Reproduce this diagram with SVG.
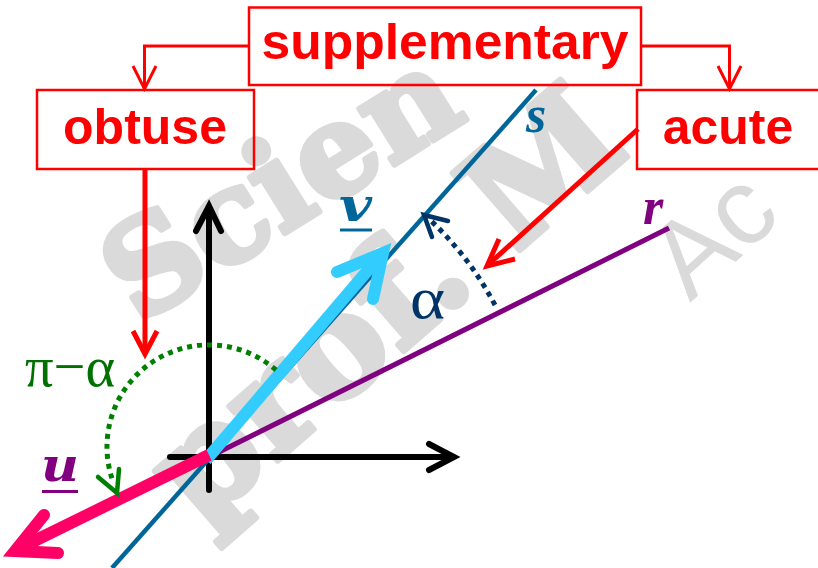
<svg xmlns="http://www.w3.org/2000/svg" width="818" height="568" viewBox="0 0 818 568">
<style>
.wm{fill:#DADADA;stroke:#DADADA;stroke-width:6;stroke-linejoin:round;font-family:"DejaVu Serif",serif;font-weight:bold}
.wm2{fill:#DADADA;font-family:"Liberation Sans",sans-serif}
.box{fill:none;stroke:#FF0000;stroke-width:2.5}
.btxt{fill:#FF0000;font-family:"Liberation Sans",Arial,sans-serif;font-weight:bold;font-size:50px;text-anchor:middle}
.con{fill:none;stroke:#FF0000;stroke-width:3}
.con2{fill:none;stroke:#FF0000;stroke-width:5}
.axis{fill:none;stroke:#000;stroke-width:6;stroke-linecap:round}
.vec{fill:none;stroke-width:12;stroke-linecap:round;stroke-linejoin:miter}
.dot{fill:none;stroke-width:5;stroke-dasharray:5 5}
.lbl{font-family:"Liberation Serif",serif;font-weight:bold;font-style:italic;font-size:52px}
.lbl2{font-family:"DejaVu Serif",serif;font-weight:bold;font-style:italic;font-size:46px}
.greek{font-family:"Liberation Serif",serif}
</style>
<rect width="818" height="568" fill="#FFFFFF"/>
<g id="watermark">
<text class="wm" font-size="127" transform="translate(138,325) rotate(-32)">Scien</text>
<text class="wm" font-size="140" transform="translate(200,528) rotate(-41)">prof. M</text>
<text class="wm2" font-size="108" transform="translate(690,303) rotate(-42)">Ac</text>
</g>
<g id="figure">
<path class="axis" d="M209 490 V208"/>
<polyline class="axis" points="196,231 209,206 221,231"/>
<path class="axis" d="M170 457 H452"/>
<polyline class="axis" points="429,444 454,457 429,470"/>
<line x1="536" y1="90" x2="112" y2="568" stroke="#006699" stroke-width="4.5"/>
<line x1="669" y1="228" x2="209" y2="457" stroke="#800080" stroke-width="5"/>
<line x1="206" y1="460" x2="380" y2="256" stroke="#33CCFF" stroke-width="12"/>
<polyline class="vec" stroke="#33CCFF" points="337,272 383,253 373,299"/>
<line x1="209" y1="455" x2="20" y2="548" stroke="#FF0066" stroke-width="12"/>
<polyline class="vec" stroke="#FF0066" points="44,515 15,551 58,553"/>
<path class="dot" stroke="#003366" stroke-width="4.5" stroke-dasharray="4.5 4.5" d="M495 305 A324 324 0 0 0 428 218"/>
<polyline fill="none" stroke="#003366" stroke-width="4.5" stroke-linecap="round" points="448,221 424,215 432,237"/>
<path class="dot" stroke="#008000" d="M276 370 A102 102 0 0 0 112.5 480"/>
<polyline fill="none" stroke="#008000" stroke-width="4.5" stroke-linecap="round" points="98,477 117,493 119,469"/>
</g>
<g id="labels">
<text class="lbl" x="526" y="132" fill="#006699">s</text>
<text class="lbl" x="643" y="224" fill="#800080">r</text>
<text class="lbl2" x="339" y="221" fill="#006699" textLength="33" lengthAdjust="spacingAndGlyphs">v</text>
<line x1="340" y1="230" x2="372" y2="230" stroke="#006699" stroke-width="3"/>
<text class="lbl2" x="41" y="481" fill="#800080" textLength="38" lengthAdjust="spacingAndGlyphs">u</text>
<line x1="42" y1="491.5" x2="78" y2="491.5" stroke="#800080" stroke-width="3"/>
<text class="greek" x="410" y="318" font-size="60" fill="#003366" textLength="35" lengthAdjust="spacingAndGlyphs">α</text>
<text class="greek" x="25" y="386" font-size="58" fill="#007000" textLength="90" lengthAdjust="spacingAndGlyphs">π−α</text>
</g>
<g id="connectors">
<path class="con" d="M249 46 H144.5 V88"/>
<polyline class="con" points="133,66 144.5,89 156,66"/>
<path class="con" d="M641 46 H729.5 V88"/>
<polyline class="con" points="718,66 729.5,89 741,66"/>
<path class="con2" d="M145 169 V352"/>
<polyline class="con2" points="133,331 145,354 157,331"/>
<path class="con2" d="M638 129 L489 264"/>
<polyline class="con2" points="499,239 487,266 515,259"/>
</g>
<g id="node-supplementary">
<rect class="box" x="249" y="7.5" width="392" height="77.5"/>
<text class="btxt" x="445" y="59" textLength="367" lengthAdjust="spacingAndGlyphs">supplementary</text>
</g>
<g id="node-obtuse">
<rect class="box" x="37" y="90" width="217" height="79"/>
<text class="btxt" x="145" y="144">obtuse</text>
</g>
<g id="node-acute">
<rect class="box" x="637" y="90" width="200" height="79"/>
<text class="btxt" x="728" y="144">acute</text>
</g>
</svg>
